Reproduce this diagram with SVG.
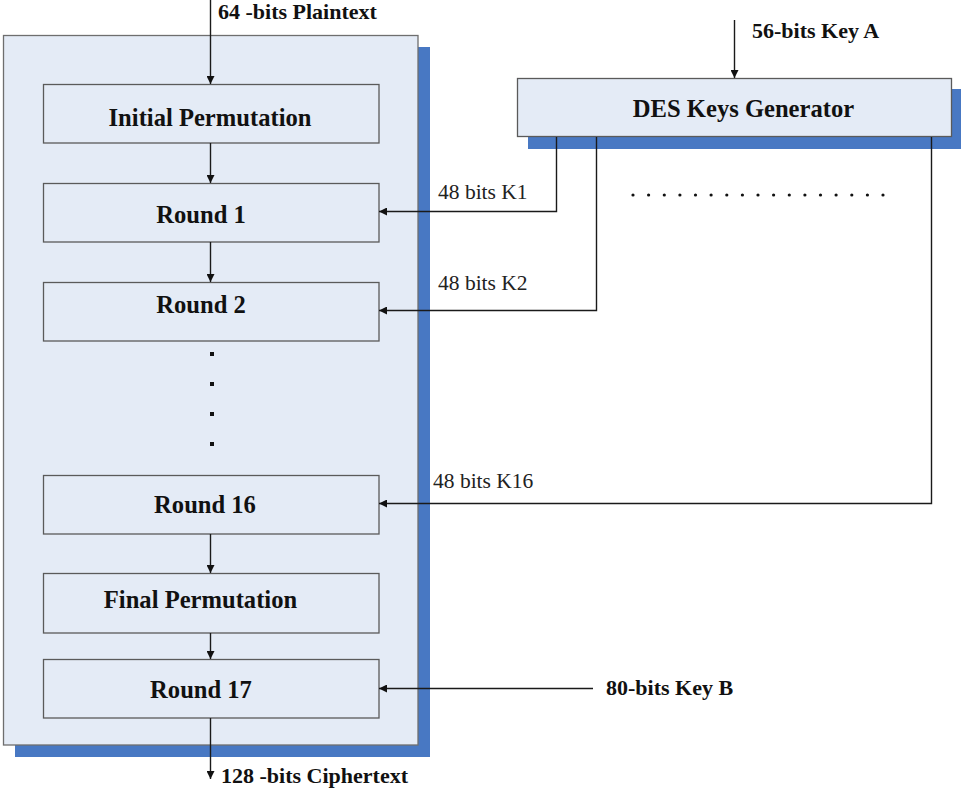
<svg xmlns="http://www.w3.org/2000/svg" width="961" height="790" viewBox="0 0 961 790">
  <style>
    .shadow { fill: #4878C3; }
    .panel { fill: #E4EBF6; stroke: #6E6E6E; stroke-width: 1.3; }
    .box { fill: #E4EBF6; stroke: #5A5A5A; stroke-width: 1.3; }
    .wire { fill: none; stroke: #1A1A1A; stroke-width: 1.4; }
    text { font-family: 'Liberation Serif', 'DejaVu Serif', 'Times New Roman', serif; }
    .title { font-weight: bold; font-size: 24.6px; fill: #111; text-anchor: middle; }
    .io { font-weight: bold; font-size: 22px; fill: #111; }
    .key { font-size: 21.5px; fill: #222; }
    .dot { fill: #111; }
  </style>
  <defs>
    <marker id="arrow" viewBox="0 0 10 10" refX="10" refY="5" markerWidth="8" markerHeight="8" markerUnits="userSpaceOnUse" orient="auto">
      <path d="M0,0 L10,5 L0,10 z" fill="#111"/>
    </marker>
  </defs>

  <rect width="961" height="790" fill="#FFFFFF"/>

  <!-- DES encryption pipeline -->
  <g id="pipeline">
    <rect class="shadow" x="15" y="47" width="415" height="710"/>
    <rect class="panel" x="3.5" y="35.5" width="414.5" height="709.5"/>
  </g>

  <!-- key schedule block -->
  <g id="keygen">
    <rect class="shadow" x="528" y="89" width="433" height="60"/>
    <rect class="box" x="517.5" y="78.5" width="434" height="58"/>
    <text class="title" x="743.5" y="117">DES Keys Generator</text>
  </g>

  <g id="initial-permutation">
    <rect class="box" x="43.5" y="84.5" width="335.5" height="58.5"/>
    <text class="title" x="210" y="126">Initial Permutation</text>
  </g>
  <g id="round-1">
    <rect class="box" x="43.5" y="183.5" width="335.5" height="58.5"/>
    <text class="title" x="201" y="223">Round 1</text>
  </g>
  <g id="round-2">
    <rect class="box" x="43.5" y="282.5" width="335.5" height="58.5"/>
    <text class="title" x="201" y="313">Round 2</text>
  </g>
  <g id="ellipsis-rounds">
    <rect class="dot" x="210" y="352" width="4" height="4"/>
    <rect class="dot" x="210" y="382" width="4" height="4"/>
    <rect class="dot" x="210" y="412" width="4" height="4"/>
    <rect class="dot" x="210" y="442" width="4" height="4"/>
  </g>
  <g id="round-16">
    <rect class="box" x="43.5" y="475.5" width="335.5" height="58.5"/>
    <text class="title" x="205" y="513">Round 16</text>
  </g>
  <g id="final-permutation">
    <rect class="box" x="43.5" y="573.5" width="335.5" height="59.5"/>
    <text class="title" x="200.5" y="608">Final Permutation</text>
  </g>
  <g id="round-17">
    <rect class="box" x="43.5" y="659.5" width="335.5" height="58.5"/>
    <text class="title" x="201" y="698">Round 17</text>
  </g>

  <!-- subkeys between K2 and K16 -->
  <g id="ellipsis-keys">
    <circle class="dot" cx="633" cy="195" r="1.6"/>
    <circle class="dot" cx="648.6" cy="195" r="1.6"/>
    <circle class="dot" cx="664.3" cy="195" r="1.6"/>
    <circle class="dot" cx="679.9" cy="195" r="1.6"/>
    <circle class="dot" cx="695.5" cy="195" r="1.6"/>
    <circle class="dot" cx="711.1" cy="195" r="1.6"/>
    <circle class="dot" cx="726.8" cy="195" r="1.6"/>
    <circle class="dot" cx="742.4" cy="195" r="1.6"/>
    <circle class="dot" cx="758" cy="195" r="1.6"/>
    <circle class="dot" cx="773.6" cy="195" r="1.6"/>
    <circle class="dot" cx="789.3" cy="195" r="1.6"/>
    <circle class="dot" cx="804.9" cy="195" r="1.6"/>
    <circle class="dot" cx="820.5" cy="195" r="1.6"/>
    <circle class="dot" cx="836.1" cy="195" r="1.6"/>
    <circle class="dot" cx="851.8" cy="195" r="1.6"/>
    <circle class="dot" cx="867.4" cy="195" r="1.6"/>
    <circle class="dot" cx="883" cy="195" r="1.6"/>
  </g>

  <g id="connectors">
    <!-- data path -->
    <line class="wire" x1="210.5" y1="0" x2="210.5" y2="84" marker-end="url(#arrow)"/>
    <line class="wire" x1="210.5" y1="143" x2="210.5" y2="183" marker-end="url(#arrow)"/>
    <line class="wire" x1="210.5" y1="242" x2="210.5" y2="282" marker-end="url(#arrow)"/>
    <line class="wire" x1="210.5" y1="534" x2="210.5" y2="573" marker-end="url(#arrow)"/>
    <line class="wire" x1="210.5" y1="633" x2="210.5" y2="659" marker-end="url(#arrow)"/>
    <line class="wire" x1="210.5" y1="718" x2="210.5" y2="779" marker-end="url(#arrow)"/>
    <!-- key inputs -->
    <line class="wire" x1="734.5" y1="20" x2="734.5" y2="78" marker-end="url(#arrow)"/>
    <polyline class="wire" points="556.5,137 556.5,211.5 379,211.5" marker-end="url(#arrow)"/>
    <polyline class="wire" points="596.5,137 596.5,310.5 379,310.5" marker-end="url(#arrow)"/>
    <polyline class="wire" points="931.5,137 931.5,503.5 379,503.5" marker-end="url(#arrow)"/>
    <line class="wire" x1="593" y1="688.5" x2="379" y2="688.5" marker-end="url(#arrow)"/>
  </g>

  <g id="labels">
    <text class="io" x="218" y="19">64 -bits Plaintext</text>
    <text class="io" x="221" y="783">128 -bits Ciphertext</text>
    <text class="io" x="752" y="38">56-bits Key A</text>
    <text class="io" x="606" y="695">80-bits Key B</text>
    <text class="key" x="438" y="199">48 bits K1</text>
    <text class="key" x="438" y="290">48 bits K2</text>
    <text class="key" x="433" y="488">48 bits K16</text>
  </g>
</svg>
